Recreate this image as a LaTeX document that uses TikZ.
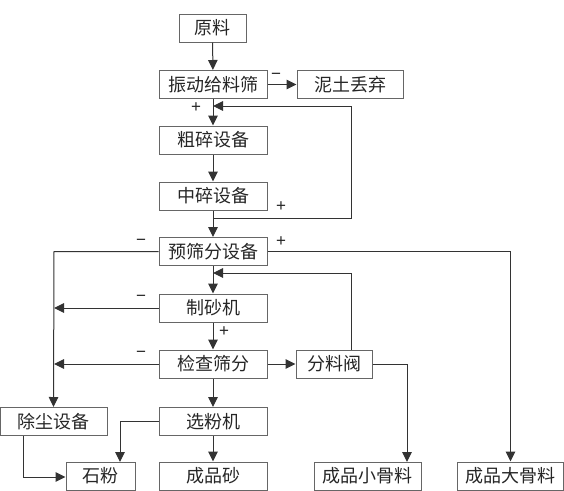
\documentclass[tikz,border=0pt]{standalone}
\usepackage{fontspec}
\newfontfamily\cjk{Noto Sans CJK SC}
\newfontfamily\lab{Liberation Sans}
\usetikzlibrary{arrows.meta}
\begin{document}
\begin{tikzpicture}[x=1pt,y=-1pt,
  box/.style={draw=black!60, line width=1pt, minimum height=28pt, inner sep=0pt, text=black!85, font=\cjk\fontsize{18}{18}\selectfont},
  wbox/.style={box, minimum width=108pt},
  conn/.style={draw=black!80, line width=1pt},
  arr/.style={conn, -{Triangle[length=10pt,width=9.5pt]}},
  sgn/.style={font=\lab\fontsize{17}{17}\selectfont, inner sep=0pt, text=black!85}]
\useasboundingbox (0,0) rectangle (564,490);
\node[box, minimum width=67pt] (yl) at (212.5,28) {原料};
\node[wbox] (zd) at (213,84.5) {振动给料筛};
\node[box, minimum width=106pt] (nt) at (350,84.5) {泥土丢弃};
\node[wbox] (cs) at (213,140) {粗碎设备};
\node[wbox] (zs) at (213,196) {中碎设备};
\node[wbox] (ys) at (213,251.5) {预筛分设备};
\node[wbox] (zsj) at (213,308) {制砂机};
\node[wbox] (jc) at (213,364) {检查筛分};
\node[box, minimum width=76pt] (fl) at (334,364) {分料阀};
\node[box, minimum width=107pt] (cc) at (53.5,421.5) {除尘设备};
\node[wbox] (xf) at (213,421.5) {选粉机};
\node[box, minimum width=69pt] (sf) at (100.5,476) {石粉};
\node[wbox] (cps) at (213,476) {成品砂};
\node[box, minimum width=107pt] (xgl) at (367.5,476) {成品小骨料};
\node[box, minimum width=106pt] (dgl) at (510.5,476) {成品大骨料};
% coordinates
\coordinate (fb1) at (213,106);
\coordinate (fb2) at (351,106);
\coordinate (fb3) at (351,218);
\coordinate (fb4) at (213,218);
\coordinate (fc1) at (213,273);
\coordinate (fc2) at (351,273);
\coordinate (lx1) at (54,251.5);
\coordinate (lx2) at (54,308);
\coordinate (lx3) at (54,364);
\coordinate (rx1) at (510.5,251.5);
\coordinate (sx1) at (407,364);
\coordinate (sx2) at (407,462);
\coordinate (px1) at (120,421.5);
\coordinate (px2) at (120,462);
\coordinate (dx1) at (23,436);
\coordinate (dx2) at (23,477);
% connectors
\draw[arr] (yl) -- (zd);
\draw[arr] (zd) -- (nt);
\draw[arr] (zd) -- (cs);
\draw[arr] (fb4) -- (fb3) -- (fb2) -- (fb1);
\draw[arr] (cs) -- (zs);
\draw[arr] (zs) -- (ys);
\draw[arr] (ys.west) -- (lx1) -- (cc.north);
\draw[arr] (ys.east) -- (rx1) -- (dgl.north);
\draw[arr] (ys) -- (zsj);
\draw[arr] (fl.north -| fc2) -- (fc2) -- (fc1);
\draw[arr] (zsj.west) -- (lx2);
\draw[arr] (zsj) -- (jc);
\draw[arr] (jc.west) -- (lx3);
\draw[arr] (jc) -- (fl);
\draw[arr] (fl.east) -- (sx1) -- (sx2);
\draw[arr] (jc) -- (xf);
\draw[arr] (xf.west) -- (px1) -- (px2);
\draw[arr] (xf) -- (cps);
\draw[arr] (cc.south -| dx1) -- (dx2) -- (sf.west |- dx2);
% signs
\node[sgn] (s1) at (276,76) {−};
\node[sgn] (s2) at (196,108) {+};
\node[sgn] (s3) at (281,207) {+};
\node[sgn] (s4) at (141,242) {−};
\node[sgn] (s5) at (281,242) {+};
\node[sgn] (s6) at (141,298) {−};
\node[sgn] (s7) at (224,332) {+};
\node[sgn] (s8) at (141,354) {−};
\end{tikzpicture}
\end{document}
